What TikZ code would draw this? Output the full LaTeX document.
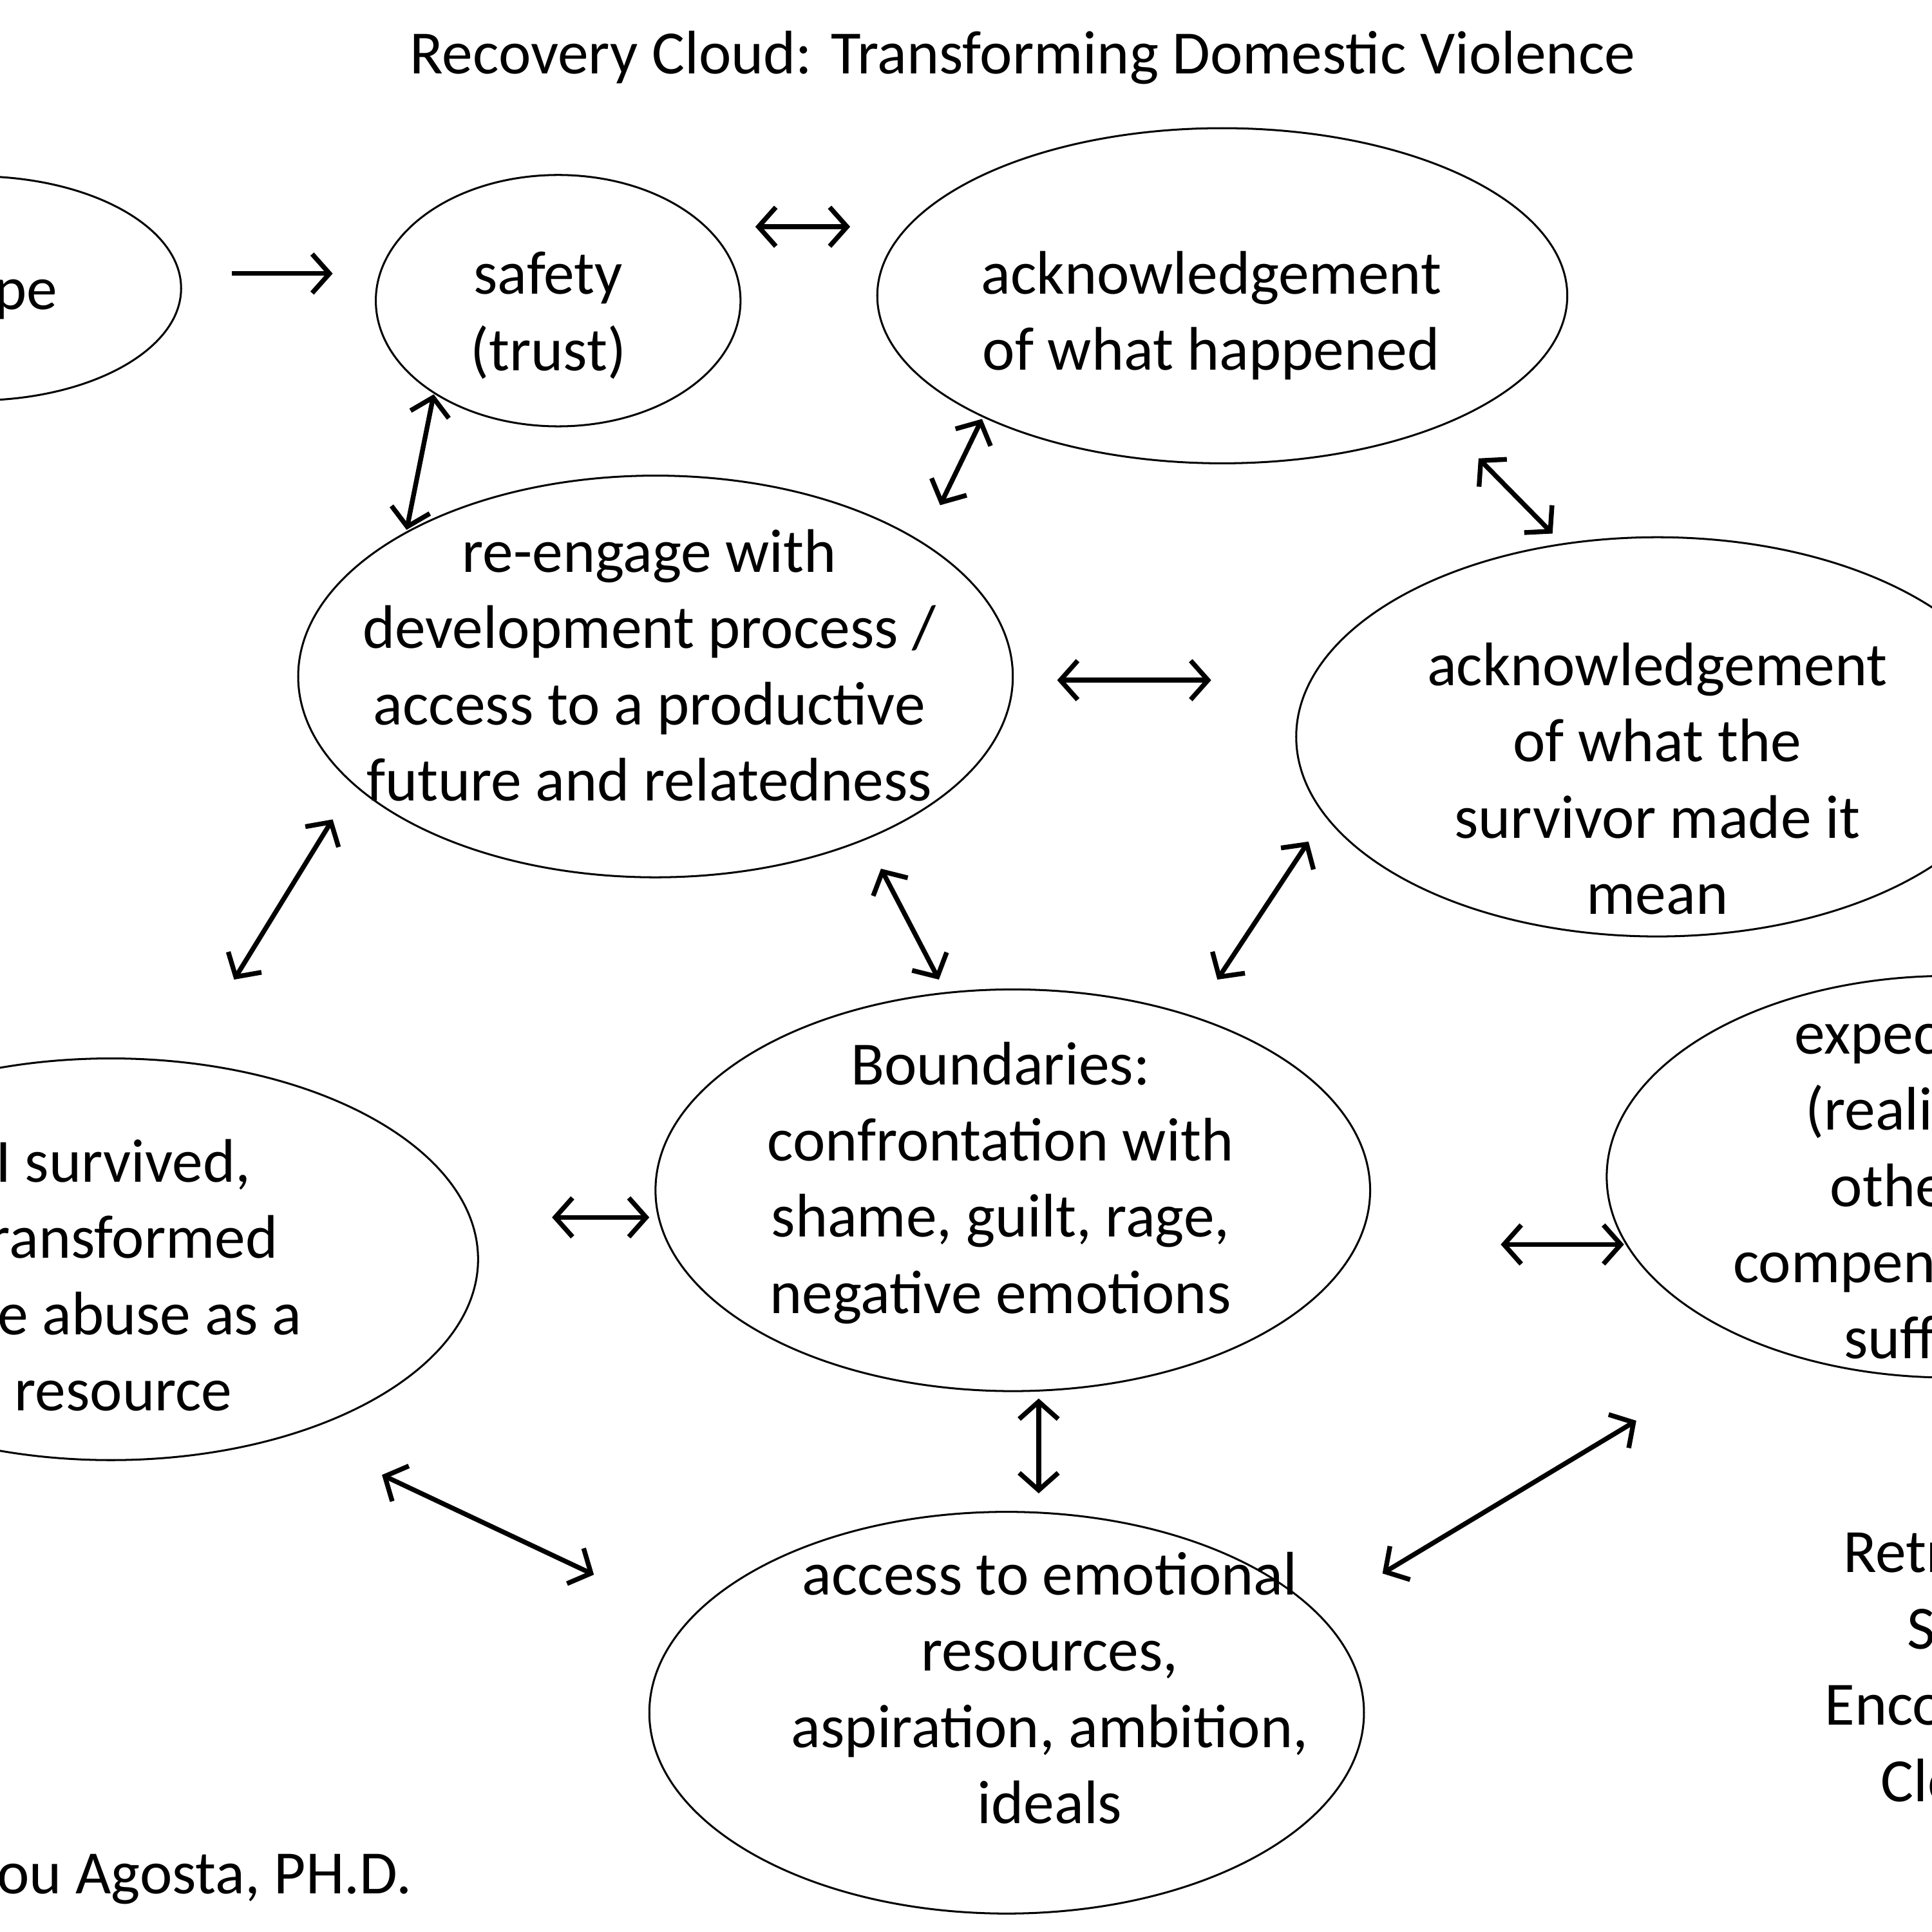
\documentclass[tikz,border=0pt]{standalone}
\usepackage{fontspec}
\setmainfont{Carlito}
\usetikzlibrary{arrows.meta}

\tikzset{
  txt/.style={align=center,inner sep=0pt,font=\fontsize{14.2pt}{17.6pt}\selectfont},
  oval/.style={line width=0.45pt},
  link/.style={line width=1.1pt,{Straight Barb[length=4pt,width=9pt]}-{Straight Barb[length=4pt,width=9pt]}},
  one/.style={line width=1.1pt,-{Straight Barb[length=4pt,width=9pt]}}
}

\begin{document}
\begin{tikzpicture}[x=0.01cm,y=-0.01cm]
  \useasboundingbox (0,0) rectangle (1568,1568);

  % title and credit
  \node[txt] (title) at (830,47) {Recovery Cloud: Transforming Domestic Violence};
  \node[txt,anchor=east] (credit) at (335,1525) {Lou Agosta, PH.D.};

  % the clouds
  \node[txt] (hope) at (-5,238) {hope};
  \draw[oval] (-20,234) ellipse [x radius=167,y radius=91];
  \node[txt] (safety) at (445,256) {safety\\(trust)};
  \draw[oval] (453,244) ellipse [x radius=148,y radius=102];
  \node[txt] (ackhap) at (983,256) {acknowledgement\\of what happened};
  \draw[oval] (992,240) ellipse [x radius=280,y radius=136];
  \node[txt] (reengage) at (527,540) {re-engage with\\development process /\\access to a productive\\future and relatedness};
  \draw[oval] (532,549) ellipse [x radius=290,y radius=163];
  \node[txt] (ackmean) at (1345,632) {acknowledgement\\of what the\\survivor made it\\mean};
  \draw[oval] (1345,598) ellipse [x radius=293,y radius=162];
  \node[txt] (survived) at (100,1035) {I survived,\\transformed\\the abuse as a\\resource};
  \draw[oval] (90,1022) ellipse [x radius=298,y radius=163];
  \node[txt] (bound) at (812,960) {Boundaries:\\confrontation with\\shame, guilt, rage,\\negative emotions};
  \draw[oval] (822,966) ellipse [x radius=290,y radius=163];
  \node[txt] (expect) at (1585,966) {expectations\\(realistic) of\\others for\\compensation for\\suffering};
  \draw[oval] (1582,955) ellipse [x radius=278,y radius=163];
  \node[txt] (access) at (852,1370) {access to emotional\\resources,\\aspiration, ambition,\\ideals};
  \draw[oval] (817,1390) ellipse [x radius=290,y radius=163];
  \node[txt] (retr) at (1585,1352) {Retrieval\\Self\\Encounter\\Cloud};

  % arrow ends
  \coordinate (a1) at (188,222);  \coordinate (a2) at (270,222);
  \coordinate (b1) at (613,184);  \coordinate (b2) at (690,184);
  \coordinate (c1) at (352,320);  \coordinate (c2) at (330,430);
  \coordinate (d1) at (797,340);  \coordinate (d2) at (763,410);
  \coordinate (e1) at (1200,372); \coordinate (e2) at (1260,433);
  \coordinate (f1) at (858,552);  \coordinate (f2) at (983,552);
  \coordinate (g1) at (270,665);  \coordinate (g2) at (190,795);
  \coordinate (h1) at (715,705);  \coordinate (h2) at (762,795);
  \coordinate (i1) at (1062,683); \coordinate (i2) at (988,795);
  \coordinate (j1) at (448,988);  \coordinate (j2) at (527,988);
  \coordinate (k1) at (1218,1010);\coordinate (k2) at (1318,1010);
  \coordinate (l1) at (843,1135); \coordinate (l2) at (843,1212);
  \coordinate (m1) at (310,1197); \coordinate (m2) at (482,1278);
  \coordinate (n1) at (1122,1277);\coordinate (n2) at (1328,1153);

  \draw[one] (a1) -- (a2);
  \foreach \p in {b,c,d,e,f,g,h,i,j,k,l,m,n}
    \draw[link] (\p1) -- (\p2);
\end{tikzpicture}
\end{document}
